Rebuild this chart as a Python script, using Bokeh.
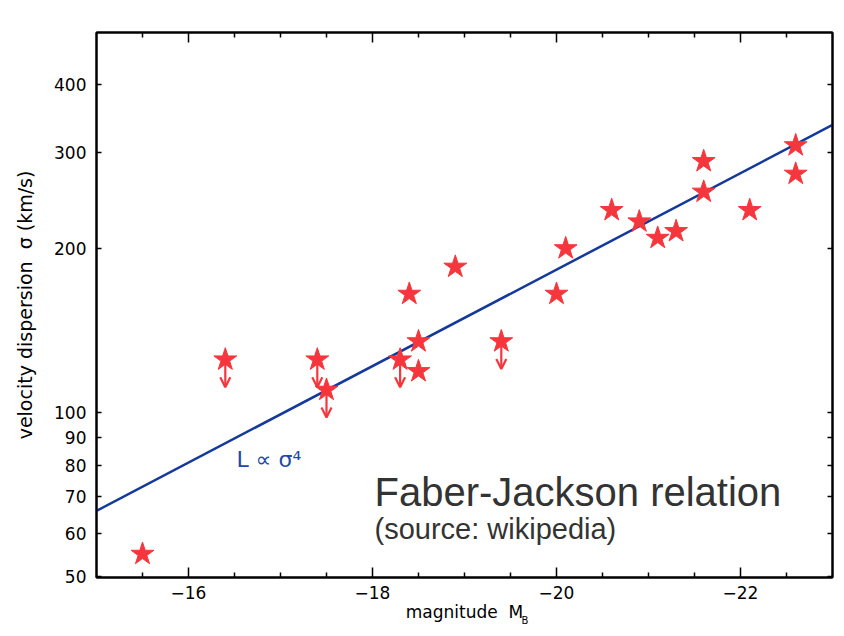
from bokeh.plotting import figure
from bokeh.models import (Range1d, FixedTicker, LinearAxis, LogAxis, Label,
                          Arrow, OpenHead, ColumnDataSource, CustomLabelingPolicy)
from bokeh.embed import file_html
from bokeh.resources import INLINE

# galaxies with measured velocity dispersion
mag = [-15.5, -18.4, -18.5, -18.5, -18.9, -20.0, -20.1, -20.6, -20.9,
       -21.1, -21.3, -21.6, -21.6, -22.1, -22.6, -22.6]
sigma = [55, 165, 135, 119, 185, 165, 200, 235, 224,
         209, 215, 289, 254, 235, 309, 274]
# upper limits (star with downward arrow)
lim_mag = [-16.4, -17.4, -17.5, -18.3, -19.4]
lim_sigma = [125, 125, 110, 125, 135]
# L ~ sigma^4 fit line
fit_mag = [-15.0, -23.0]
fit_sigma = [66, 337]

x_major = [-16, -18, -20, -22]
x_minor = [-15.5, -16.5, -17, -17.5, -18.5, -19, -19.5, -20.5, -21, -21.5, -22.5]
y_ticks = [50, 60, 70, 80, 90, 100, 200, 300, 400]

RED = "#f5363c"
BLUE = "#14399a"
FONT = "DejaVu Sans"
NB = "\u00a0"

p = figure(width=844, height=636, output_backend="svg", toolbar_location=None,
           x_range=Range1d(-15, -23), y_range=Range1d(49.8, 498),
           y_axis_type="log",
           min_border_left=96, min_border_right=12, min_border_top=32, min_border_bottom=59)
p.grid.visible = False
p.outline_line_color = "black"
p.outline_line_width = 2
p.background_fill_color = "white"
p.border_fill_color = "white"

xt = FixedTicker(ticks=x_major, minor_ticks=x_minor)
yt = FixedTicker(ticks=y_ticks, minor_ticks=[])

no_labels = CustomLabelingPolicy(code="""
try { for (const i of Array.from(indices)) indices.unset(i) } catch (e) {}
return indices
""")

def style_x(ax, labels=True):
    ax.ticker = xt
    ax.axis_line_color = "black"
    ax.axis_line_width = 2
    ax.major_tick_in = 10
    ax.major_tick_out = 0
    ax.minor_tick_in = 5
    ax.minor_tick_out = 0
    ax.major_tick_line_width = 1.5
    ax.minor_tick_line_width = 1.5
    ax.major_label_overrides = {v: "\u2212" + str(abs(v)) for v in x_major}
    ax.major_label_text_font = FONT
    ax.major_label_text_color = "black"
    if labels:
        ax.major_label_text_font_size = "17px"
        ax.major_label_standoff = 8
    else:
        ax.major_label_text_font_size = "0px"
        ax.major_label_standoff = 0
        ax.major_label_policy = no_labels

def style_y(ax, labels=True):
    ax.ticker = yt
    ax.axis_line_color = "black"
    ax.axis_line_width = 2
    ax.major_tick_in = 5
    ax.major_tick_out = 0
    ax.minor_tick_in = 0
    ax.minor_tick_out = 0
    ax.major_tick_line_width = 1.5
    ax.major_label_overrides = {v: str(v) for v in y_ticks}
    ax.major_label_text_font = FONT
    ax.major_label_text_color = "black"
    if labels:
        ax.major_label_text_font_size = "17px"
        ax.major_label_standoff = 10
    else:
        ax.major_label_text_font_size = "0px"
        ax.major_label_standoff = 0
        ax.major_label_policy = no_labels

bottom = p.xaxis[0]
left = p.yaxis[0]
style_x(bottom)
style_y(left)
top = LinearAxis()
style_x(top, labels=False)
p.add_layout(top, "above")
right = LogAxis()
style_y(right, labels=False)
p.add_layout(right, "right")

# axis titles
bottom.axis_label = "magnitude" + NB + NB + "M"
bottom.axis_label_text_font = FONT
bottom.axis_label_text_font_size = "17px"
bottom.axis_label_text_font_style = "normal"
bottom.axis_label_text_color = "black"
bottom.axis_label_standoff = 0
left.axis_label = "velocity dispersion" + NB + NB + "\u03c3 (km/s)"
left.axis_label_text_font = FONT
left.axis_label_text_font_size = "19px"
left.axis_label_text_font_style = "normal"
left.axis_label_text_color = "black"
left.axis_label_standoff = 15

# fit line
p.line(fit_mag, fit_sigma, line_color=BLUE, line_width=2.5)

# upper-limit arrows
arr_src = ColumnDataSource(dict(x0=lim_mag, y0=lim_sigma, x1=lim_mag,
                                y1=[s * 0.89 for s in lim_sigma]))
p.add_layout(Arrow(x_start="x0", y_start="y0", x_end="x1", y_end="y1", source=arr_src,
                   line_color=RED, line_width=2.2,
                   end=OpenHead(size=10, line_color=RED, line_width=2.2)))

# stars
p.scatter(mag, sigma, marker="star", size=24, fill_color=RED, line_color=RED)
p.scatter(lim_mag, lim_sigma, marker="star", size=24, fill_color=RED, line_color=RED)

# texts (screen units relative to the frame's bottom-left corner)
p.add_layout(Label(x=140, y=118, x_units="screen", y_units="screen", text="L \u221d \u03c3\u2074",
                   text_font=FONT, text_font_size="22px", text_color="#2148a6",
                   text_baseline="alphabetic"))
p.add_layout(Label(x=278, y=86, x_units="screen", y_units="screen", text="Faber-Jackson relation",
                   text_font="Liberation Sans", text_font_size="40px", text_color="#333333",
                   text_baseline="alphabetic"))
p.add_layout(Label(x=278, y=49, x_units="screen", y_units="screen", text="(source: wikipedia)",
                   text_font="Liberation Sans", text_font_size="29px", text_color="#333333",
                   text_baseline="alphabetic"))

# subscript of the x-axis title, placed in the panel below the axis
p.add_layout(Label(x=425, y=15, x_units="screen", y_units="screen",
                   text="B", text_font=FONT, text_font_size="10px",
                   text_color="black", text_baseline="alphabetic"), "below")

open("out.html", "w").write(file_html(p, INLINE))
